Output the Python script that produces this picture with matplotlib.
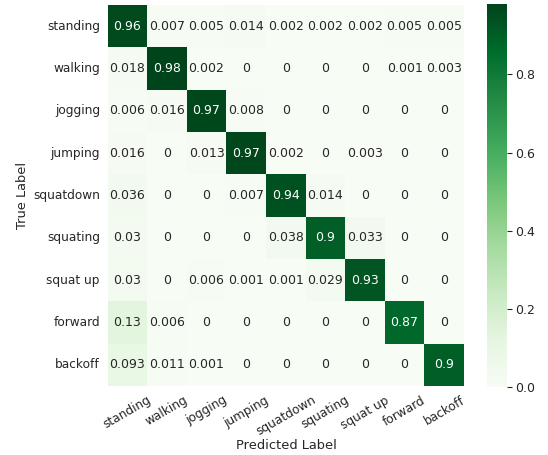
import numpy as np
import matplotlib
matplotlib.use('Agg')
import matplotlib.pyplot as plt
import seaborn as sns

labels = ['standing', 'walking', 'jogging', 'jumping', 'squatdown',
          'squating', 'squat up', 'forward', 'backoff']

cm = np.array([
    [0.96, 0.007, 0.005, 0.014, 0.002, 0.002, 0.002, 0.005, 0.005],
    [0.018, 0.98, 0.002, 0, 0, 0, 0, 0.001, 0.003],
    [0.006, 0.016, 0.97, 0.008, 0, 0, 0, 0, 0],
    [0.016, 0, 0.013, 0.97, 0.002, 0, 0.003, 0, 0],
    [0.036, 0, 0, 0.007, 0.94, 0.014, 0, 0, 0],
    [0.03, 0, 0, 0, 0.038, 0.9, 0.033, 0, 0],
    [0.03, 0, 0.006, 0.001, 0.001, 0.029, 0.93, 0, 0],
    [0.13, 0.006, 0, 0, 0, 0, 0, 0.87, 0],
    [0.093, 0.011, 0.001, 0, 0, 0, 0, 0, 0.9],
])

sns.set_theme(style='white')

W, H = 548, 455
fig = plt.figure(figsize=(W / 100, H / 100), dpi=100)
ax = fig.add_axes([107.5 / W, 1 - 386 / H, 356.5 / W, 381 / H])
cax = fig.add_axes([487 / W, 1 - 387 / H, 20 / W, 383 / H])

sns.heatmap(cm, annot=True, fmt='.2g', cmap='Greens', ax=ax, cbar_ax=cax,
            xticklabels=labels, yticklabels=labels,
            annot_kws={'size': 9})
ax.set_xticklabels(labels, rotation=30, ha='center', fontsize=8.7)
ax.set_yticklabels(labels, rotation=0, fontsize=8.7)
ax.tick_params(axis='both', length=0, pad=5.5)
ax.set_xlabel('Predicted Label', fontsize=9.4)
ax.set_ylabel('True Label', fontsize=9.4)
ax.xaxis.set_label_coords((286.5 - 107.5) / 356.5, -(439 - 386) / 381)
ax.yaxis.set_label_coords(-(107.5 - 29) / 356.5, 0.5)
cax.tick_params(labelsize=9, length=3.5, width=0.8, left=False, right=True,
                pad=2)

fig.savefig('out.png', dpi=100)
